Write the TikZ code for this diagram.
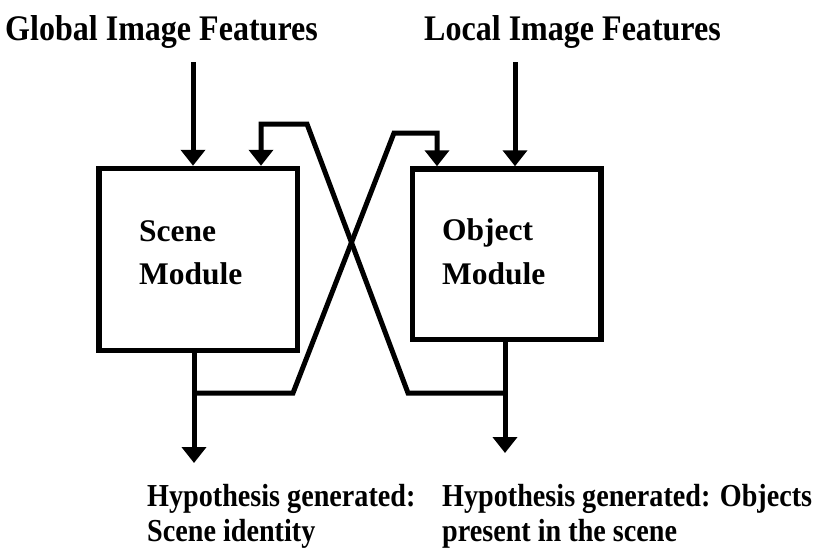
\documentclass[tikz,border=0pt]{standalone}
\usepackage{fontspec}
\setmainfont{Liberation Serif}
\newfontfamily\titlefont[FakeStretch=0.89,BoldFeatures={FakeStretch=0.89}]{Liberation Serif}
\newfontfamily\hypfont[FakeStretch=0.88,BoldFeatures={FakeStretch=0.88}]{Liberation Serif}
\usetikzlibrary{arrows.meta,calc}
\begin{document}
\begin{tikzpicture}[x=1pt,y=-1pt,
  box/.style={draw, line width=5.5pt, rectangle, inner sep=0pt},
  conn/.style={line width=5pt},
  arr/.style={conn, -{Triangle[width=24pt,length=16pt]}},
  ttl/.style={font=\titlefont\bfseries\fontsize{36}{40}\selectfont, inner sep=0pt, anchor=base west},
  mod/.style={font=\bfseries\fontsize{31.5}{36}\selectfont, inner sep=0pt, anchor=base west},
  hyp/.style={font=\hypfont\bfseries\fontsize{32}{36}\selectfont, inner sep=0pt, anchor=base west}]
\useasboundingbox[fill=white] (0,0) rectangle (838,552);

\node[box, minimum width=198.5pt, minimum height=182pt] (scene) at (198.25,259.5) {};
\node[box, minimum width=188.5pt, minimum height=170.5pt] (object) at (506.75,254.25) {};

\node[ttl] (glob) at (5,40) {Global Image Features};
\node[ttl] (loc) at (424,40) {Local Image Features};
\node[mod] (scT1) at (139,241) {Scene};
\node[mod] (scT2) at (139,284) {Module};
\node[mod] (obT1) at (442,240) {Object};
\node[mod] (obT2) at (442,284) {Module};
\node[hyp] (h1a) at (147,506) {Hypothesis generated:};
\node[hyp] (h1b) at (147,541) {Scene identity};
\node[hyp] (h2a) at (442,506) {Hypothesis generated: Objects};
\node[hyp] (h2b) at (442,541) {present in the scene};

\coordinate (gTop) at (193,62);
\coordinate (lTop) at (515,62);
\coordinate (sBr) at (194,393);
\coordinate (sEnd) at (194,463);
\coordinate (oBr) at (505,393);
\coordinate (oEnd) at (505,453);
\coordinate (sK) at (293,393);
\coordinate (sTop) at (394,133);
\coordinate (sFb) at (437,133);
\coordinate (oK) at (408,393);
\coordinate (oTop) at (307,124);
\coordinate (oFb) at (261,124);

\draw[arr] (gTop) -- (gTop |- scene.north);
\draw[arr] (lTop) -- (lTop |- object.north);
\draw[arr] (scene.south -| sBr) -- (sEnd);
\draw[arr] (object.south -| oBr) -- (oEnd);
\draw[arr] (sBr) -- (sK) -- (sTop) -- (sFb) -- (sFb |- object.north);
\draw[arr] (oBr) -- (oK) -- (oTop) -- (oFb) -- (oFb |- scene.north);
\end{tikzpicture}
\end{document}
